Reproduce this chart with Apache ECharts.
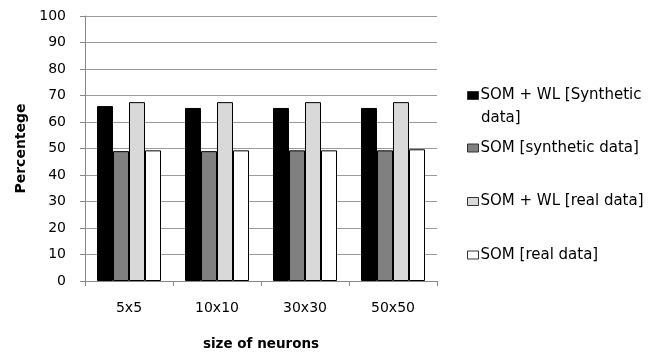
<!DOCTYPE html>
<html><head><meta charset="utf-8">
<script src="https://cdn.jsdelivr.net/npm/echarts@6/dist/echarts.min.js"></script>
<style>html,body{margin:0;padding:0;background:#fff}#c{width:661px;height:356px}</style>
</head><body><div id="c"></div>
<script>
const categories = ['5x5', '10x10', '30x30', '50x50'];
const seriesNames = ['SOM + WL [Synthetic data]', 'SOM [synthetic data]', 'SOM + WL [real data]', 'SOM [real data]'];
const somWlSynthetic = [66, 65.3, 65.3, 65.3];
const somSynthetic = [49, 49, 49.3, 49.3];
const somWlReal = [67.5, 67.5, 67.5, 67.5];
const somReal = [49.3, 49.3, 49.3, 49.7];
const yTicks = [0, 10, 20, 30, 40, 50, 60, 70, 80, 90, 100];

const colors = ['#000000', '#808080', '#d9d9d9', '#ffffff'];
const values = [somWlSynthetic, somSynthetic, somWlReal, somReal];
const FONT = 'DejaVu Sans';
const legendTops = [84, 136.5, 190, 243.5];
// first legend label wraps after "[Synthetic"
const firstLine = 'SOM + WL [Synthetic';
const wrapLine = 'data]';

const chart = echarts.init(document.getElementById('c'));
chart.setOption({
  animation: false,
  grid: { left: 85, right: 224, top: 16, bottom: 75 },
  xAxis: {
    type: 'category', data: categories,
    name: 'size of neurons', nameLocation: 'middle', nameGap: 56,
    nameTextStyle: { fontFamily: FONT, fontWeight: 'bold', fontSize: 13.5, color: '#000' },
    axisLine: { lineStyle: { color: '#888' } },
    axisTick: { show: true, length: 5, lineStyle: { color: '#888' } },
    axisLabel: { fontFamily: FONT, fontSize: 14, color: '#000', margin: 20 }
  },
  yAxis: {
    type: 'value', min: yTicks[0], max: yTicks[yTicks.length - 1], interval: 10,
    name: 'Percentege', nameLocation: 'middle', nameGap: 56,
    nameTextStyle: { fontFamily: FONT, fontWeight: 'bold', fontSize: 14, color: '#000' },
    axisLine: { show: true, lineStyle: { color: '#888' } },
    axisTick: { show: true, length: 5, lineStyle: { color: '#888' } },
    axisLabel: { fontFamily: FONT, fontSize: 14, color: '#000', margin: 19 },
    splitLine: { lineStyle: { color: '#9a9a9a' } }
  },
  legend: seriesNames.map((n, i) => ({
    data: [n], left: 467, top: legendTops[i], orient: 'vertical', padding: 0,
    icon: 'rect', itemWidth: 11, itemHeight: 8, itemGap: 4,
    itemStyle: { borderWidth: 1, borderColor: '#333' },
    formatter: name => (i === 0 ? firstLine : name),
    textStyle: { fontFamily: FONT, fontSize: 15, color: '#000', lineHeight: 23, padding: [0, 0, 0, -3] },
    selectedMode: false
  })),
  graphic: [{
    type: 'text', left: 481, top: legendTops[0] + 23,
    style: { text: wrapLine, font: '15px "DejaVu Sans"', fill: '#000', lineHeight: 23 }
  }],
  series: seriesNames.map((n, i) => ({
    name: n, type: 'bar', data: values[i],
    barWidth: 16, barGap: '0%',
    itemStyle: { color: colors[i], borderColor: '#000', borderWidth: 1 }
  }))
});
</script></body></html>
